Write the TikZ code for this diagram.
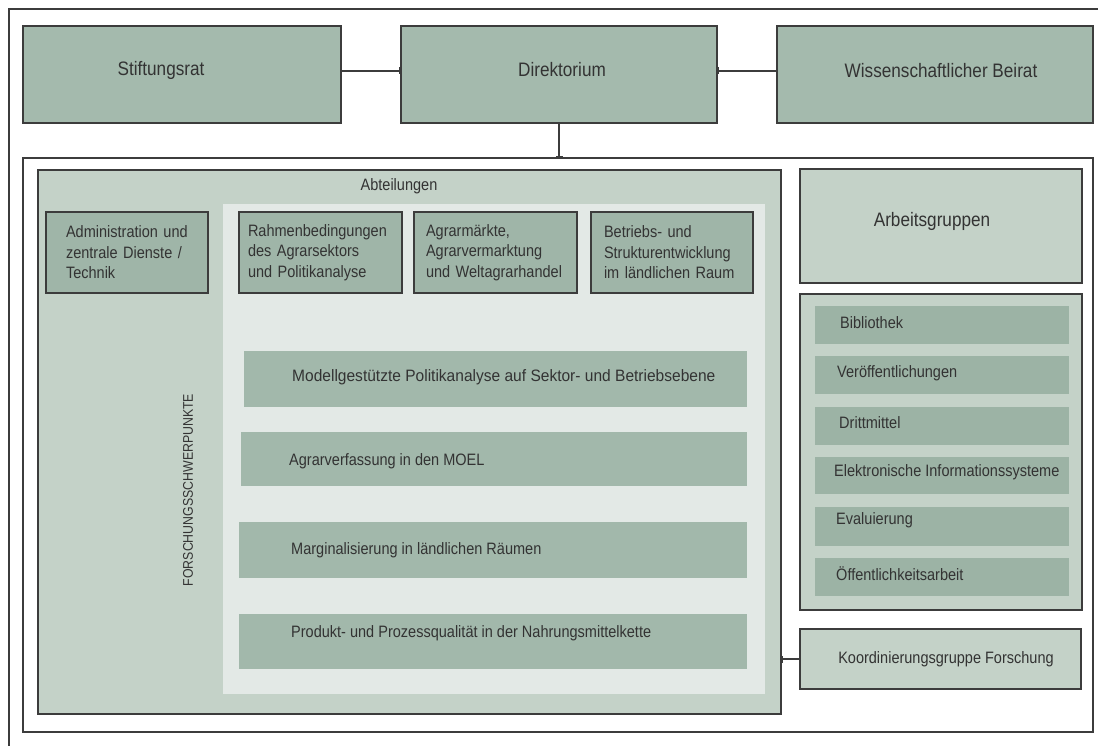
\documentclass[tikz,border=0pt]{standalone}
\usepackage{fontspec}
\setmainfont{Liberation Sans}[FakeStretch=0.88]
\usetikzlibrary{arrows.meta}
\definecolor{topc}{HTML}{A4BAAD}
\definecolor{midc}{HTML}{C4D2C8}
\definecolor{lightc}{HTML}{E3E9E6}
\definecolor{subc}{HTML}{9FB5A8}
\definecolor{barc}{HTML}{A2B8AB}
\definecolor{sbarc}{HTML}{9CB3A5}
\definecolor{bordc}{HTML}{3C3C3C}
\definecolor{txtc}{HTML}{333333}
\newcommand{\fbig}{\fontsize{19.5}{23}\selectfont}
\newcommand{\fmid}{\fontsize{16.5}{20.5}\selectfont}
\newcommand{\fsml}{\fontsize{14}{16}\selectfont}
\begin{document}
\begin{tikzpicture}[x=1pt,y=-1pt,
  wh/.style 2 args={minimum width=#1, minimum height=#2},
  base/.style={inner sep=0pt, outer sep=0pt, anchor=north west},
  topbox/.style={base, draw=bordc, line width=1.4pt, fill=topc},
  frame/.style={base, draw=bordc, line width=1.4pt, fill=white},
  midbox/.style={base, draw=bordc, line width=1.4pt, fill=midc, text=txtc},
  lightarea/.style={base, fill=lightc},
  subbox/.style={base, draw=bordc, line width=1.4pt, fill=subc, align=left, text=txtc, font=\fmid},
  rbar/.style={base, fill=barc},
  sbar/.style={base, fill=sbarc},
  lbl/.style={inner sep=0pt, text=txtc, font=\fmid},
  biglbl/.style={inner sep=0pt, text=txtc, font=\fbig},
  conn/.style={draw=bordc, line width=1.2pt, -{Bar[width=7pt,line width=1.6pt]}}
]
\useasboundingbox (0,0) rectangle (1098,746);
\fill[white] (0,0) rectangle (1098,746);
% outer frame (partly outside the picture)
\draw[bordc, line width=1.8pt] (1110,9) -- (9,9) -- (9,760);

% top row
\node[topbox, wh={318}{97}] (stift) at (23,26) {};
\node[biglbl] (stift-t) at (161,70) {Stiftungsrat};
\node[topbox, wh={316}{97}] (dir) at (401,26) {};
\node[biglbl] (dir-t) at (562,70) {Direktorium};
\node[topbox, wh={316}{97}] (beirat) at (777,26) {};
\node[biglbl] (beirat-t) at (941,71) {Wissenschaftlicher Beirat};

% inner frame
\node[frame, wh={1070}{574}] (inner) at (23,158) {};

% Abteilungen block
\node[midbox, wh={743}{544}] (abt) at (38,170) {};
\node[lbl] (abt-t) at (399,186) {Abteilungen};
\node[lightarea, wh={542}{490}] (light) at (223,204) {};
\node[lbl, font=\fsml, rotate=90] (fsp) at (188,490) {FORSCHUNGSSCHWERPUNKTE};

\node[subbox, wh={162}{81}, text width=122pt, inner xsep=20pt] (admin) at (46,212)
  {Administration und\\zentrale Dienste /\\Technik};
\node[subbox, wh={163}{81}, text width=145pt, inner xsep=9pt] (rahmen) at (239,212)
  {Rahmenbedingungen\\des Agrarsektors\\und Politikanalyse};
\node[subbox, wh={163}{81}, text width=139pt, inner xsep=12pt] (markt) at (414,212)
  {Agrarmärkte,\\Agrarvermarktung\\und Weltagrarhandel};
\node[subbox, wh={162}{81}, text width=136pt, inner xsep=13pt] (betrieb) at (591,212)
  {Betriebs- und\\Strukturentwicklung\\im ländlichen Raum};

% research bars
\node[rbar, wh={503}{56}] (modell) at (244,351) {};
\node[lbl, anchor=west] (modell-t) at (292,377) {\scalebox{1.07}[1]{Modellgestützte Politikanalyse auf Sektor- und Betriebsebene}};
\node[rbar, wh={506}{54}] (agrar) at (241,432) {};
\node[lbl, anchor=west] (agrar-t) at (289,461) {Agrarverfassung in den MOEL};
\node[rbar, wh={508}{56}] (marg) at (239,522) {};
\node[lbl, anchor=west] (marg-t) at (291,550) {Marginalisierung in ländlichen Räumen};
\node[rbar, wh={508}{55}] (prod) at (239,614) {};
\node[lbl, anchor=west] (prod-t) at (291,633) {Produkt- und Prozessqualität in der Nahrungsmittelkette};

% right column
\node[midbox, wh={282}{114}] (ag) at (800,169) {};
\node[biglbl] (ag-t) at (932,221) {Arbeitsgruppen};
\node[midbox, wh={282}{316}] (serv) at (800,294) {};
\node[sbar, wh={254}{38}] (bib) at (815,306) {};
\node[lbl, anchor=west] (bib-t) at (840,323) {Bibliothek};
\node[sbar, wh={254}{38}] (ver) at (815,356) {};
\node[lbl, anchor=west] (ver-t) at (837,373) {Veröffentlichungen};
\node[sbar, wh={254}{38}] (dritt) at (815,407) {};
\node[lbl, anchor=west] (dritt-t) at (839,423) {Drittmittel};
\node[sbar, wh={254}{37}] (elek) at (815,457) {};
\node[lbl, anchor=west] (elek-t) at (834,472) {Elektronische Informationssysteme};
\node[sbar, wh={254}{39}] (eval) at (815,507) {};
\node[lbl, anchor=west] (eval-t) at (836,520) {Evaluierung};
\node[sbar, wh={254}{38}] (oeff) at (815,558) {};
\node[lbl, anchor=west] (oeff-t) at (836,574) {Öffentlichkeitsarbeit};
\node[midbox, wh={281}{60}, font=\fmid] (koord) at (800,629) {};
\node[lbl] (koord-t) at (946,659) {Koordinierungsgruppe Forschung};

% connectors
\draw[conn] ([yshift=3.5pt]stift.east) -- ([yshift=3.5pt]dir.west);
\draw[conn] ([yshift=3.5pt]beirat.west) -- ([yshift=3.5pt]dir.east);
\draw[conn] (dir.south) -- (dir.south |- inner.north);
\draw[conn] (koord.west) -- (koord.west -| abt.east);
\end{tikzpicture}
\end{document}
